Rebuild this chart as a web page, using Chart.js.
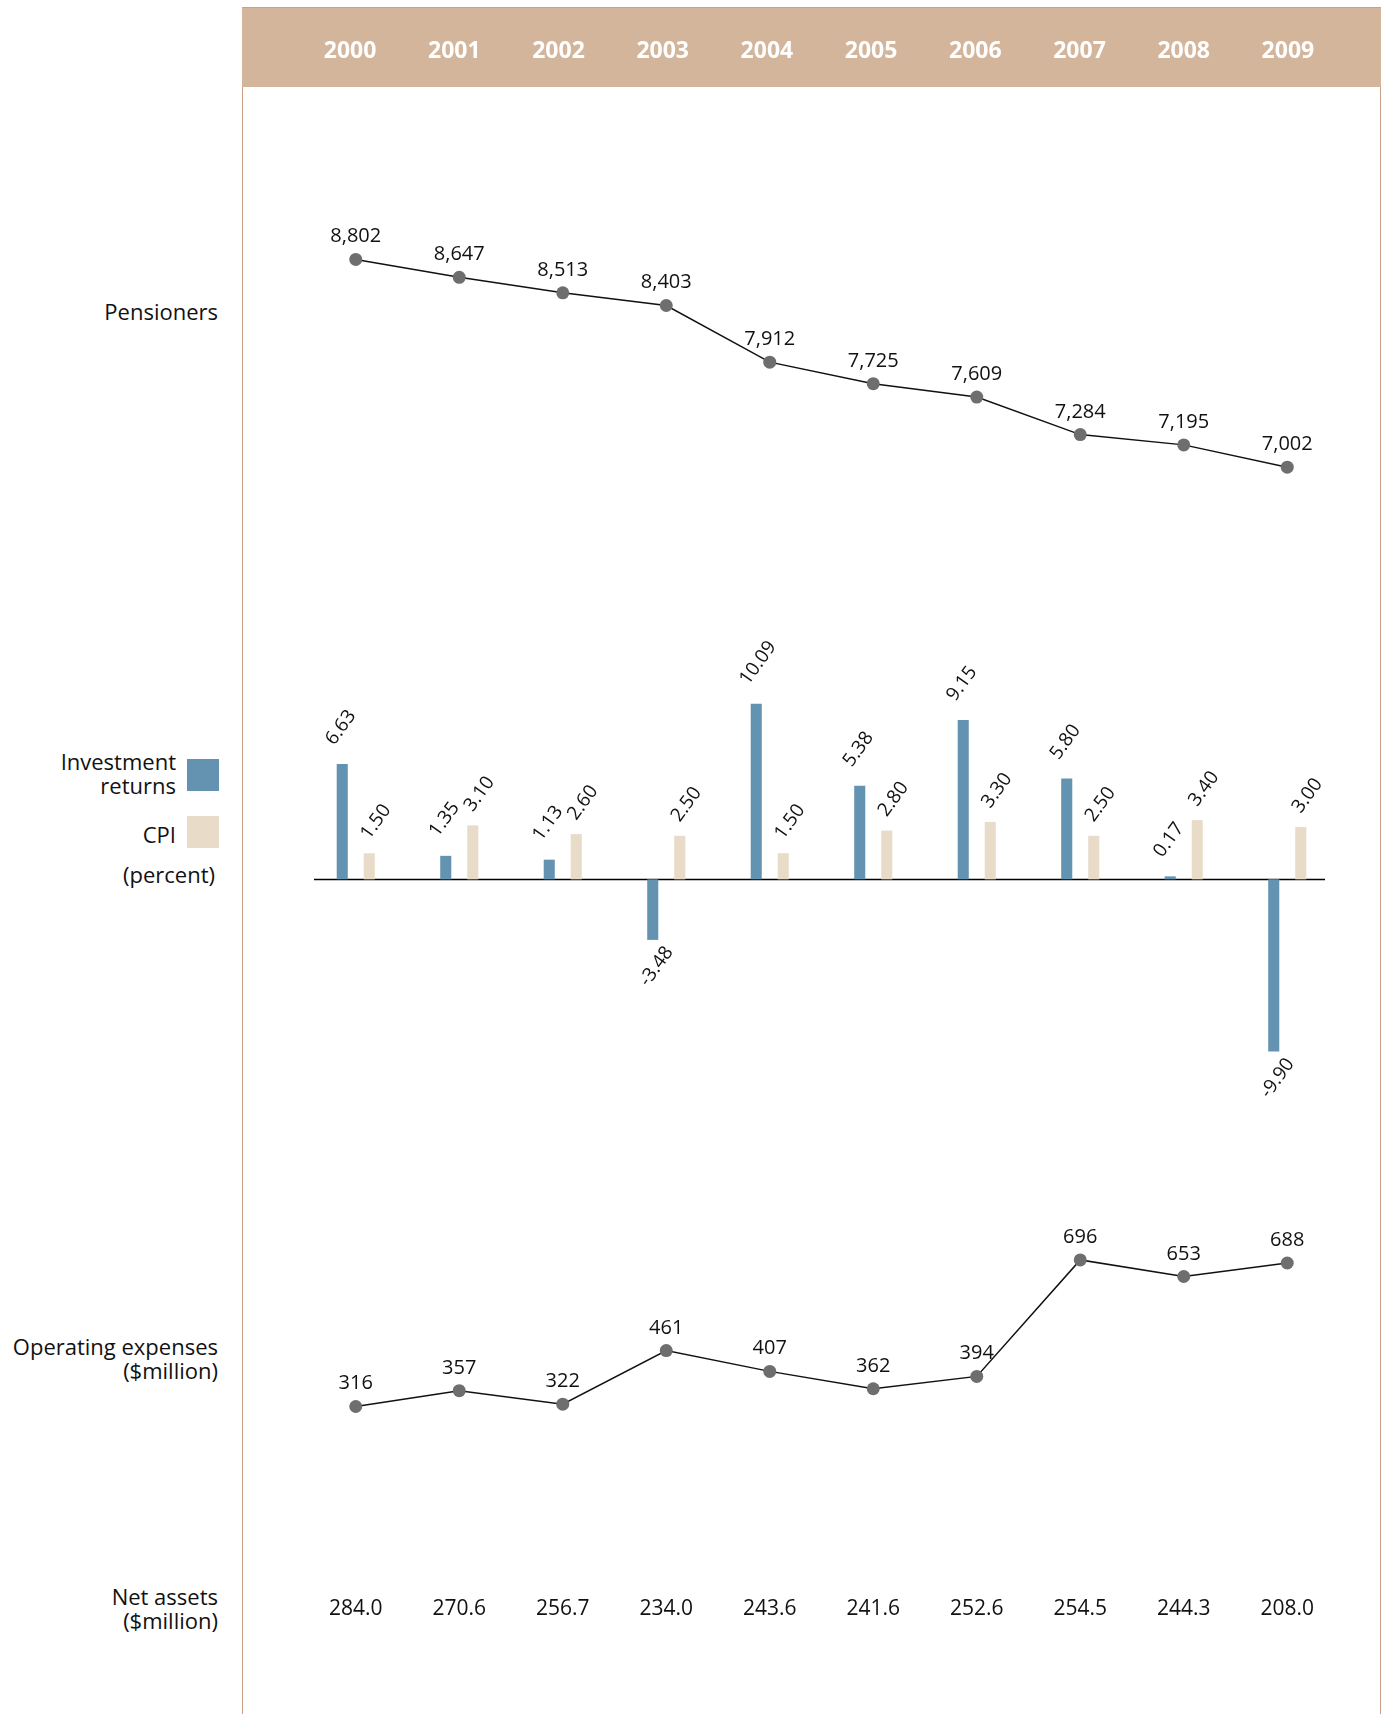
<!DOCTYPE html>
<html>
<head>
<meta charset="utf-8">
<script src="https://cdn.jsdelivr.net/npm/chart.js@4"></script>
<style>
  body { margin: 0; width: 1387px; height: 1714px; background: #fff; position: relative; overflow: hidden;
         font-family: "Open Sans", sans-serif; color: #111; }
  .frame { position: absolute; left: 242px; top: 7px; width: 1137px; height: 1720px;
           border-left: 1px solid #c9a084; border-right: 1px solid #c9a084; }
  .band { position: absolute; left: 242px; top: 7px; width: 1139px; height: 80px; box-sizing: border-box;
          background: #d3b59c; border-top: 1px solid #c6a486; }
  canvas { position: absolute; }
  .lbl { position: absolute; font-size: 22px; line-height: 24px; text-align: right; white-space: nowrap; }
  .key { position: absolute; left: 187px; width: 32px; height: 32px; }
</style>
</head>
<body>
<div class="frame"></div>
<div class="band"></div>

<div class="lbl" style="right:1169px; top:299px">Pensioners</div>
<div class="lbl" style="right:1211px; top:749px">Investment<br>returns</div>
<div class="lbl" style="right:1211px; top:822px">CPI</div>
<div class="lbl" style="right:1172px; top:862px">(percent)</div>
<div class="lbl" style="right:1169px; top:1334px">Operating expenses<br>($million)</div>
<div class="lbl" style="right:1169px; top:1584px">Net assets<br>($million)</div>
<div class="key" id="keyReturns" style="top:759px"></div>
<div class="key" id="keyCpi" style="top:816px"></div>

<canvas id="headerRow" width="1042" height="79" style="left:298px; top:8px"></canvas>
<canvas id="pensionersChart" width="1035" height="320" style="left:304px; top:200px"></canvas>
<canvas id="returnsChart" width="1035" height="560" style="left:304px; top:560px"></canvas>
<canvas id="expensesChart" width="1035" height="300" style="left:304px; top:1180px"></canvas>
<canvas id="assetsRow" width="1035" height="60" style="left:304px; top:1580px"></canvas>

<script>
const YEARS = ['2000', '2001', '2002', '2003', '2004', '2005', '2006', '2007', '2008', '2009'];
const PENSIONERS = [8802, 8647, 8513, 8403, 7912, 7725, 7609, 7284, 7195, 7002];
const INVESTMENT_RETURNS = [6.63, 1.35, 1.13, -3.48, 10.09, 5.38, 9.15, 5.80, 0.17, -9.90];
const CPI = [1.50, 3.10, 2.60, 2.50, 1.50, 2.80, 3.30, 2.50, 3.40, 3.00];
const OPERATING_EXPENSES = [316, 357, 322, 461, 407, 362, 394, 696, 653, 688];
const NET_ASSETS = [284.0, 270.6, 256.7, 234.0, 243.6, 241.6, 252.6, 254.5, 244.3, 208.0];

const BLUE = '#6493b1';
const CREAM = '#e8dcc8';
const POINT_GREY = '#6e6e6e';
const TEXT = '#111';
const FONT = '"Open Sans", sans-serif';

document.getElementById('keyReturns').style.background = BLUE;
document.getElementById('keyCpi').style.background = CREAM;

Chart.defaults.font.family = FONT;

let baseOptions = (yMin, yMax, xOffset) => {
  return {
    responsive: false,
    animation: false,
    events: [],
    layout: {padding: 0, autoPadding: false},
    plugins: {legend: {display: false}, tooltip: {enabled: false}},
    scales: {
      x: {display: false, offset: xOffset},
      y: {display: false, min: yMin, max: yMax}
    }
  };
}

// value written above every point of the first dataset
let pointLabels = (format) => {
  return {
    id: 'pointLabels',
    afterDatasetsDraw(chart) {
      let ctx = chart.ctx;
      let data = chart.data.datasets[0].data;
      ctx.save();
      ctx.font = '20px ' + FONT;
      ctx.fillStyle = TEXT;
      ctx.textAlign = 'center';
      ctx.textBaseline = 'alphabetic';
      chart.getDatasetMeta(0).data.forEach((pt, i) => {
        ctx.fillText(format(data[i]), pt.x, pt.y - 17);
      });
      ctx.restore();
    }
  };
}

// slanted values on the bars, above positive ones and below negative ones
// (returns labels sit a bit higher and further left than the CPI ones)
const LABEL_OFFSET = [{x: -8, y: -18}, {x: 0, y: -13}];
const barLabels = {
  id: 'barLabels',
  afterDatasetsDraw(chart) {
    let ctx = chart.ctx;
    ctx.save();
    ctx.font = '19px ' + FONT;
    ctx.fillStyle = TEXT;
    ctx.textBaseline = 'alphabetic';
    chart.data.datasets.forEach((ds, d) => {
      chart.getDatasetMeta(d).data.forEach((bar, i) => {
        let v = ds.data[i];
        ctx.save();
        if (v >= 0) {
          ctx.translate(bar.x + LABEL_OFFSET[d].x, bar.y + LABEL_OFFSET[d].y);
          ctx.textAlign = 'left';
        } else {
          ctx.translate(bar.x + 21, bar.y + 12);
          ctx.textAlign = 'right';
        }
        ctx.rotate(-54 * Math.PI / 180);
        ctx.fillText(v.toFixed(2), 0, 0);
        ctx.restore();
      });
    });
    ctx.restore();
  }
};

const zeroLine = {
  id: 'zeroLine',
  beforeDatasetsDraw(chart) {
    let ctx = chart.ctx;
    let y = Math.round(chart.scales.y.getPixelForValue(0)) + 0.5;
    ctx.save();
    ctx.strokeStyle = '#000';
    ctx.lineWidth = 1.5;
    ctx.beginPath();
    ctx.moveTo(chart.chartArea.left + 10, y);
    ctx.lineTo(chart.chartArea.right - 14, y);
    ctx.stroke();
    ctx.restore();
  }
};

let lineDataset = (values) => {
  return {
    data: values,
    borderColor: TEXT,
    borderWidth: 1.5,
    tension: 0,
    pointRadius: 6.5,
    pointBorderWidth: 0,
    pointBackgroundColor: POINT_GREY,
    pointBorderColor: POINT_GREY
  };
}

// a row of texts placed on the category centres
let textRow = (id, texts, font, color, baseline) => {
  return new Chart(document.getElementById(id), {
    type: 'bar',
    data: {labels: YEARS, datasets: []},
    options: baseOptions(0, 1, true),
    plugins: [{
      id: 'rowText',
      afterDraw(chart) {
        let ctx = chart.ctx;
        let x = chart.scales.x;
        ctx.save();
        ctx.font = font;
        ctx.fillStyle = color;
        ctx.textAlign = 'center';
        ctx.textBaseline = 'alphabetic';
        texts.forEach((t, i) => ctx.fillText(t, x.getPixelForValue(i), baseline));
        ctx.restore();
      }
    }]
  });
}

textRow('headerRow', YEARS, 'bold 23px ' + FONT, '#fff', 50);

new Chart(document.getElementById('pensionersChart'), {
  type: 'line',
  data: {labels: YEARS, datasets: [lineDataset(PENSIONERS)]},
  options: baseOptions(6544, 9317, true),
  plugins: [pointLabels((v) => v.toLocaleString('en-US'))]
});

new Chart(document.getElementById('returnsChart'), {
  type: 'bar',
  data: {
    labels: YEARS,
    datasets: [
      {label: 'Investment returns', data: INVESTMENT_RETURNS, backgroundColor: BLUE,
       categoryPercentage: 0.522, barPercentage: 0.41},
      {label: 'CPI', data: CPI, backgroundColor: CREAM,
       categoryPercentage: 0.522, barPercentage: 0.41}
    ]
  },
  options: baseOptions(-13.83, 18.35, true),
  plugins: [zeroLine, barLabels]
});

new Chart(document.getElementById('expensesChart'), {
  type: 'line',
  data: {labels: YEARS, datasets: [lineDataset(OPERATING_EXPENSES)]},
  options: baseOptions(125.4, 903.2, true),
  plugins: [pointLabels((v) => String(v))]
});

textRow('assetsRow', NET_ASSETS.map((v) => v.toFixed(1)), '21px ' + FONT, TEXT, 35);
</script>
</body>
</html>
